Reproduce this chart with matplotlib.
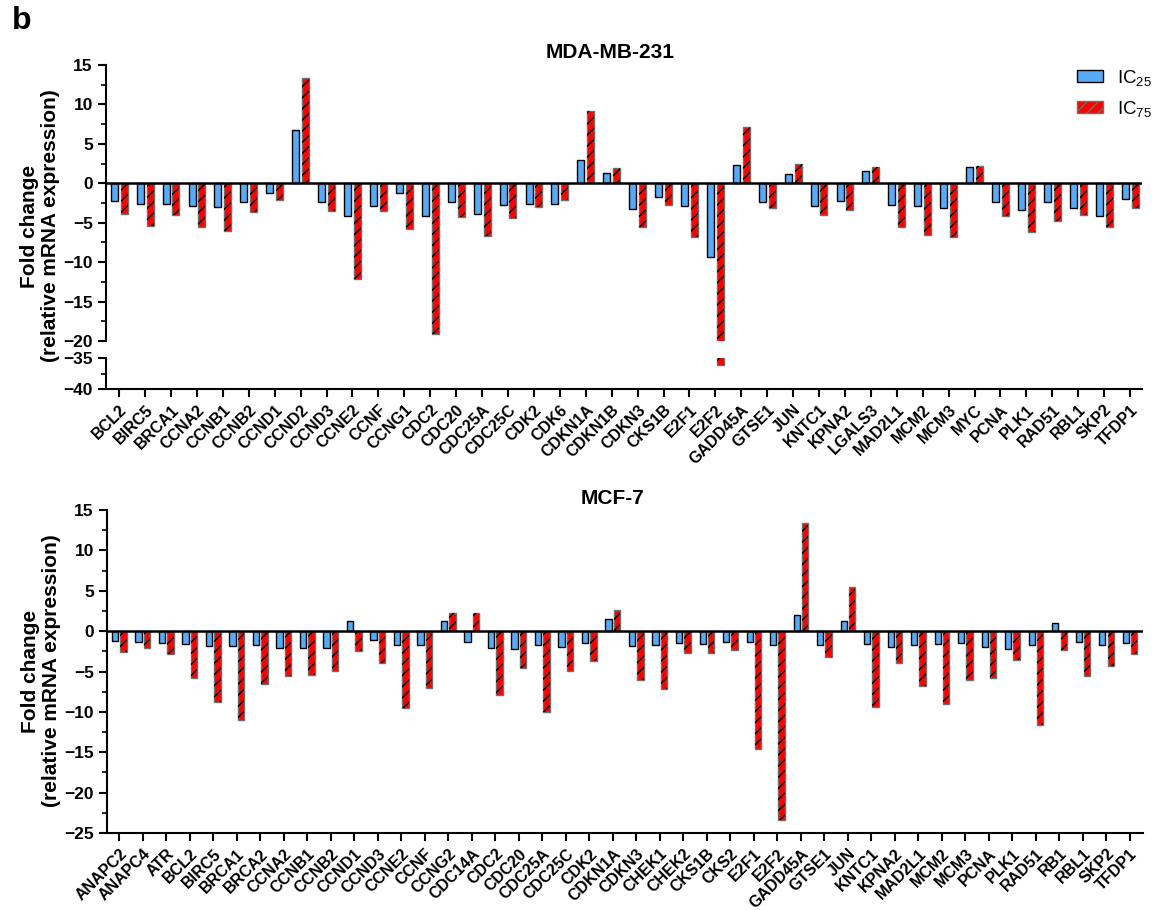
import matplotlib
matplotlib.use('Agg')
import matplotlib.pyplot as plt
import numpy as np
from matplotlib.ticker import MultipleLocator, FixedLocator
from matplotlib.patches import Patch

plt.rcParams['font.family'] = ['Liberation Sans', 'DejaVu Sans']
plt.rcParams['font.weight'] = 'bold'
plt.rcParams['mathtext.default'] = 'regular'
plt.rcParams['hatch.linewidth'] = 1.0

# MDA-MB-231 panel
mda_genes = ['BCL2', 'BIRC5', 'BRCA1', 'CCNA2', 'CCNB1', 'CCNB2', 'CCND1', 'CCND2',
             'CCND3', 'CCNE2', 'CCNF', 'CCNG1', 'CDC2', 'CDC20', 'CDC25A', 'CDC25C',
             'CDK2', 'CDK6', 'CDKN1A', 'CDKN1B', 'CDKN3', 'CKS1B', 'E2F1', 'E2F2',
             'GADD45A', 'GTSE1', 'JUN', 'KNTC1', 'KPNA2', 'LGALS3', 'MAD2L1', 'MCM2',
             'MCM3', 'MYC', 'PCNA', 'PLK1', 'RAD51', 'RBL1', 'SKP2', 'TFDP1']
mda_ic25 = [-2.2, -2.6, -2.6, -2.9, -3.0, -2.35, -1.2, 6.8,
            -2.4, -4.2, -2.9, -1.2, -4.2, -2.4, -3.9, -2.7,
            -2.6, -2.6, 3.0, 1.3, -3.2, -1.7, -2.9, -9.4,
            2.3, -2.35, 1.2, -2.9, -2.3, 1.6, -2.7, -2.9,
            -3.15, 2.05, -2.35, -3.4, -2.4, -3.1, -4.1, -2.0]
mda_ic75 = [-3.9, -5.4, -4.0, -5.5, -6.1, -3.7, -2.1, 13.4,
            -3.5, -12.1, -3.5, -5.8, -19.1, -4.3, -6.7, -4.45,
            -3.0, -2.1, 9.2, 1.9, -5.6, -2.8, -6.8, -36.1,
            7.1, -3.15, 2.4, -4.0, -3.4, 2.1, -5.6, -6.5,
            -6.85, 2.25, -4.2, -6.2, -4.75, -4.0, -5.6, -3.1]

# MCF-7 panel
mcf_genes = ['ANAPC2', 'ANAPC4', 'ATR', 'BCL2', 'BIRC5', 'BRCA1', 'BRCA2', 'CCNA2',
             'CCNB1', 'CCNB2', 'CCND1', 'CCND3', 'CCNE2', 'CCNF', 'CCNG2', 'CDC14A',
             'CDC2', 'CDC20', 'CDC25A', 'CDC25C', 'CDK2', 'CDKN1A', 'CDKN3', 'CHEK1',
             'CHEK2', 'CKS1B', 'CKS2', 'E2F1', 'E2F2', 'GADD45A', 'GTSE1', 'JUN',
             'KNTC1', 'KPNA2', 'MAD2L1', 'MCM2', 'MCM3', 'PCNA', 'PLK1', 'RAD51',
             'RB1', 'RBL1', 'SKP2', 'TFDP1']
mcf_ic25 = [-1.25, -1.3, -1.5, -1.55, -1.8, -1.8, -1.7, -2.1,
            -2.1, -2.1, 1.25, -1.05, -1.7, -1.75, 1.3, -1.3,
            -2.05, -2.25, -1.7, -2.0, -1.45, 1.55, -1.8, -1.7,
            -1.5, -1.55, -1.3, -1.3, -1.75, 2.05, -1.75, 1.3,
            -1.6, -2.0, -1.75, -1.55, -1.5, -2.0, -2.25, -1.75,
            1.05, -1.4, -1.75, -1.5]
mcf_ic75 = [-2.55, -2.1, -2.8, -5.8, -8.8, -11.0, -6.6, -5.6,
            -5.4, -4.9, -2.4, -3.9, -9.5, -7.05, 2.25, 2.25,
            -7.95, -4.6, -10.0, -4.95, -3.75, 2.6, -6.05, -7.2,
            -2.75, -2.65, -2.3, -14.6, -23.4, 13.4, -3.2, 5.45,
            -9.35, -3.95, -6.8, -9.0, -6.0, -5.75, -3.6, -11.6,
            -2.35, -5.6, -4.35, -2.8]

BLUE = '#56aaf6'
RED = '#ff0000'
W, H = 1156, 910


def fig_rect(x0, y0, x1, y1):
    return [x0 / W, 1 - y1 / H, (x1 - x0) / W, (y1 - y0) / H]


def draw_bars(ax, ic25, ic75, off, width):
    x = np.arange(len(ic25))
    ax.bar(x - off, ic25, width, color=BLUE, edgecolor='black', linewidth=1.0, zorder=2)
    ax.bar(x + off, ic75, width, color=RED, edgecolor='#6e6e6e', linewidth=1.0, zorder=2)
    ax.bar(x + off, ic75, width, color='none', edgecolor='black', linewidth=0,
           hatch='///', zorder=2)
    ax.axhline(0, color='black', lw=1.8, zorder=3)


def style_axis(ax):
    for s in ['top', 'right']:
        ax.spines[s].set_visible(False)
    for s in ['left', 'bottom']:
        ax.spines[s].set_linewidth(1.5)
    ax.tick_params(axis='both', which='major', length=6, width=1.5, labelsize=12.5)
    ax.tick_params(axis='y', which='minor', length=3.5, width=1.2)


fig = plt.figure(figsize=(W / 100, H / 100), dpi=100)

# ---- top panel (broken y axis)
ax_up = fig.add_axes(fig_rect(106, 65, 1142, 341))
ax_lo = fig.add_axes(fig_rect(106, 358, 1142, 389))
for ax in (ax_up, ax_lo):
    draw_bars(ax, mda_ic25, mda_ic75, 0.19, 0.27)
    style_axis(ax)
    ax.set_xlim(-0.51, 39.46)

ax_up.set_ylim(-20, 15)
ax_up.yaxis.set_major_locator(MultipleLocator(5))
ax_up.yaxis.set_minor_locator(MultipleLocator(2.5))
ax_up.spines['bottom'].set_visible(False)
ax_up.tick_params(axis='x', which='both', bottom=False, labelbottom=False)

ax_lo.set_ylim(-40, -35)
ax_lo.yaxis.set_major_locator(FixedLocator([-35, -40]))
ax_lo.yaxis.set_minor_locator(FixedLocator([-37.5]))
ax_lo.set_xticks(np.arange(len(mda_genes)))
ax_lo.set_xticklabels(mda_genes, rotation=45, ha='right', rotation_mode='anchor',
                      fontsize=11.5)

fig.text(40 / W, 1 - 226 / H, 'Fold change\n(relative mRNA expression)', rotation=90,
         ha='center', va='center', fontsize=15, fontweight='bold', linespacing=1.15)
fig.text(610 / W, 1 - 53 / H, 'MDA-MB-231', ha='center', va='center',
         fontsize=15, fontweight='bold')
fig.text(12 / W, 1 - 21 / H, 'b', ha='left', va='center', fontsize=23, fontweight='bold')

handles = [Patch(facecolor=BLUE, edgecolor='black', linewidth=1.0),
           Patch(facecolor=RED, edgecolor='#6e6e6e', hatch='///', linewidth=1.0)]
leg = fig.legend(handles, ['IC$_{25}$', 'IC$_{75}$'], loc='upper left',
                 bbox_to_anchor=(1073 / W, 1 - 64 / H), frameon=False,
                 prop={'size': 13.5, 'weight': 'normal'}, handlelength=1.4,
                 handleheight=0.6, handletextpad=0.75, labelspacing=0.6,
                 borderpad=0.2, borderaxespad=0)

# ---- bottom panel
ax2 = fig.add_axes(fig_rect(107, 510, 1143, 833))
draw_bars(ax2, mcf_ic25, mcf_ic75, 0.18, 0.26)
style_axis(ax2)
ax2.set_xlim(-0.52, 43.56)
ax2.set_ylim(-25, 15)
ax2.yaxis.set_major_locator(MultipleLocator(5))
ax2.yaxis.set_minor_locator(MultipleLocator(2.5))
ax2.set_xticks(np.arange(len(mcf_genes)))
ax2.set_xticklabels(mcf_genes, rotation=45, ha='right', rotation_mode='anchor',
                    fontsize=11.5)

fig.text(41 / W, 1 - 671 / H, 'Fold change\n(relative mRNA expression)', rotation=90,
         ha='center', va='center', fontsize=15, fontweight='bold', linespacing=1.15)
fig.text(613 / W, 1 - 498 / H, 'MCF-7', ha='center', va='center',
         fontsize=15, fontweight='bold')

fig.savefig('out.png', dpi=100)
